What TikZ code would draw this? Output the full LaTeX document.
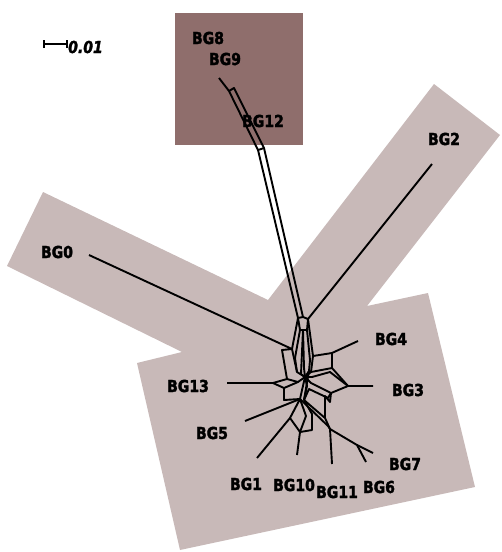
\documentclass[tikz,border=0pt]{standalone}
\usepackage{fontspec}
\newfontfamily\labfont{DejaVu Sans}[FakeStretch=0.85,FakeBold=2]
\definecolor{lightbg}{RGB}{200,185,184}
\definecolor{darkbg}{RGB}{143,110,108}
\begin{document}
\begin{tikzpicture}[x=1pt,y=-1pt,
  net/.style={line width=1.9pt,line join=round},
  lab/.style={font=\labfont\bfseries\fontsize{16.5}{18}\selectfont,inner sep=0pt},
  scal/.style={font=\labfont\bfseries\itshape\fontsize{16.5}{18}\selectfont,inner sep=0pt,anchor=west}]
\useasboundingbox (0,0) rectangle (502,552);
% background regions
\fill[lightbg] (43,192) -- (268,300) -- (434,84) -- (500,135) -- (367,306) -- (428,293)
  -- (475,487) -- (180,550) -- (137,363) -- (182,352) -- (7,266) -- cycle;
\fill[darkbg] (175,13) rectangle (303,145);
% scale bar
\coordinate (sb0) at (44,44); \coordinate (sb1) at (67,44);
\draw[line width=1.6pt] (sb0) -- (sb1);
\draw[line width=1.6pt] ([yshift=-4]sb0) -- ([yshift=4]sb0);
\draw[line width=1.6pt] ([yshift=-4]sb1) -- ([yshift=4]sb1);
\node[scal] (scl) at (68,47) {0.01};
% labels
\node[lab] (BG8) at (208,38) {BG8};
\node[lab] (BG9) at (225,59) {BG9};
\node[lab] (BG12) at (263,121) {BG12};
\node[lab] (BG2) at (444,139) {BG2};
\node[lab] (BG0) at (57,252) {BG0};
\node[lab] (BG4) at (391,339) {BG4};
\node[lab] (BG3) at (408,390) {BG3};
\node[lab] (BG13) at (188,386) {BG13};
\node[lab] (BG5) at (212,433) {BG5};
\node[lab] (BG7) at (405,464) {BG7};
\node[lab] (BG1) at (246,484) {BG1};
\node[lab] (BG10) at (294,485) {BG10};
\node[lab] (BG11) at (337,492) {BG11};
\node[lab] (BG6) at (379,487) {BG6};
% network vertices
\coordinate (t9) at (219,78);
\coordinate (p1) at (229,91); \coordinate (p2) at (234,88);
\coordinate (q1) at (258,150); \coordinate (q2) at (264,148);
\coordinate (a1) at (298,318); \coordinate (a2) at (303,317); \coordinate (a3) at (308,319);
\coordinate (a4) at (307,330); \coordinate (a6) at (303,330); \coordinate (a5) at (300,330);
\coordinate (l2) at (432,164);
\coordinate (l0) at (89,255);
\coordinate (g1) at (292,349); \coordinate (g0) at (282,350);
\coordinate (c) at (305,377);
\coordinate (m1) at (297,372); \coordinate (m2) at (301,374); \coordinate (m3) at (309,371);
\coordinate (m4) at (295,358); \coordinate (m5) at (304,368);
\coordinate (l13) at (227,383);
\coordinate (d0) at (273,383); \coordinate (d1) at (287,379); \coordinate (d2) at (284,388);
\coordinate (d3) at (298,382);
\coordinate (e0) at (284,400);
\coordinate (n2) at (300,399); \coordinate (n3) at (304,400);
\coordinate (l5) at (245,421);
\coordinate (l1) at (257,458); \coordinate (f1) at (290,418); \coordinate (f2) at (300,432);
\coordinate (f3) at (306,416); \coordinate (l10) at (297,455);
\coordinate (f4) at (312,414); \coordinate (f5) at (312,430);
\coordinate (k0) at (325,396); \coordinate (k1) at (325,418); \coordinate (k2) at (328,426);
\coordinate (k3) at (330,429); \coordinate (k4) at (357,445);
\coordinate (l11) at (332,464); \coordinate (l6) at (366,462); \coordinate (l7) at (373,453);
\coordinate (r0) at (313,356); \coordinate (r1) at (332,353); \coordinate (r2) at (332,368);
\coordinate (r3) at (311,372); \coordinate (l4) at (358,341);
\coordinate (r4) at (348,386); \coordinate (l3) at (373,386);
\coordinate (r5) at (331,393); \coordinate (r6) at (311,383);
\coordinate (r7) at (330,402);
\coordinate (u1) at (312,377); \coordinate (u2) at (330,372);
\coordinate (u3) at (328,398); \coordinate (u4) at (309,389);
\coordinate (v1) at (310,360); \coordinate (v2) at (307,386);
% edges
\draw[net] (t9) -- (p1) -- (q1) -- (q2) -- (p2) -- (p1);
\draw[net] (q1) -- (a1) -- (a2) -- (a3) -- (a4) -- (a6) -- (a5) -- (a1);
\draw[net] (q2) -- (a2);
\draw[net] (l2) -- (a3);
\draw[net] (l0) -- (g1) -- (g0) -- (d1);
\draw[net] (a1) -- (g1) -- (m1);
\draw[net] (a5) -- (m4) -- (m1) -- (c);
\draw[net] (a6) -- (m2) -- (c);
\draw[net] (a6) -- (m5) -- (c);
\draw[net] (a4) -- (v1) -- (m3) -- (c);
\draw[net] (a3) -- (r0) -- (r3);
\draw[net] (r0) -- (r1) -- (r2) -- (r3) -- (c);
\draw[net] (r1) -- (l4);
\draw[net] (r2) -- (r4) -- (l3);
\draw[net] (r4) -- (r5) -- (r6) -- (c);
\draw[net] (c) -- (u1) -- (u2) -- (r4);
\draw[net] (r5) -- (u3) -- (u4) -- (n3);
\draw[net] (c) -- (v2) -- (n3);
\draw[net] (l13) -- (d0) -- (d1) -- (d3) -- (c);
\draw[net] (d0) -- (d2) -- (d3);
\draw[net] (d2) -- (e0) -- (n2);
\draw[net] (l5) -- (n2) -- (c);
\draw[net] (n3) -- (m3);
\draw[net] (n2) -- (f1) -- (f2) -- (f3) -- (n2);
\draw[net] (l1) -- (f1);
\draw[net] (f2) -- (l10);
\draw[net] (n3) -- (f4) -- (f5) -- (f2);
\draw[net] (r5) -- (r7) -- (k0) -- (k1);
\draw[net] (n3) -- (k1) -- (k3);
\draw[net] (n2) -- (k2) -- (k3);
\draw[net] (k3) -- (l11);
\draw[net] (k3) -- (k4) -- (l6);
\draw[net] (k4) -- (l7);
\end{tikzpicture}
\end{document}
